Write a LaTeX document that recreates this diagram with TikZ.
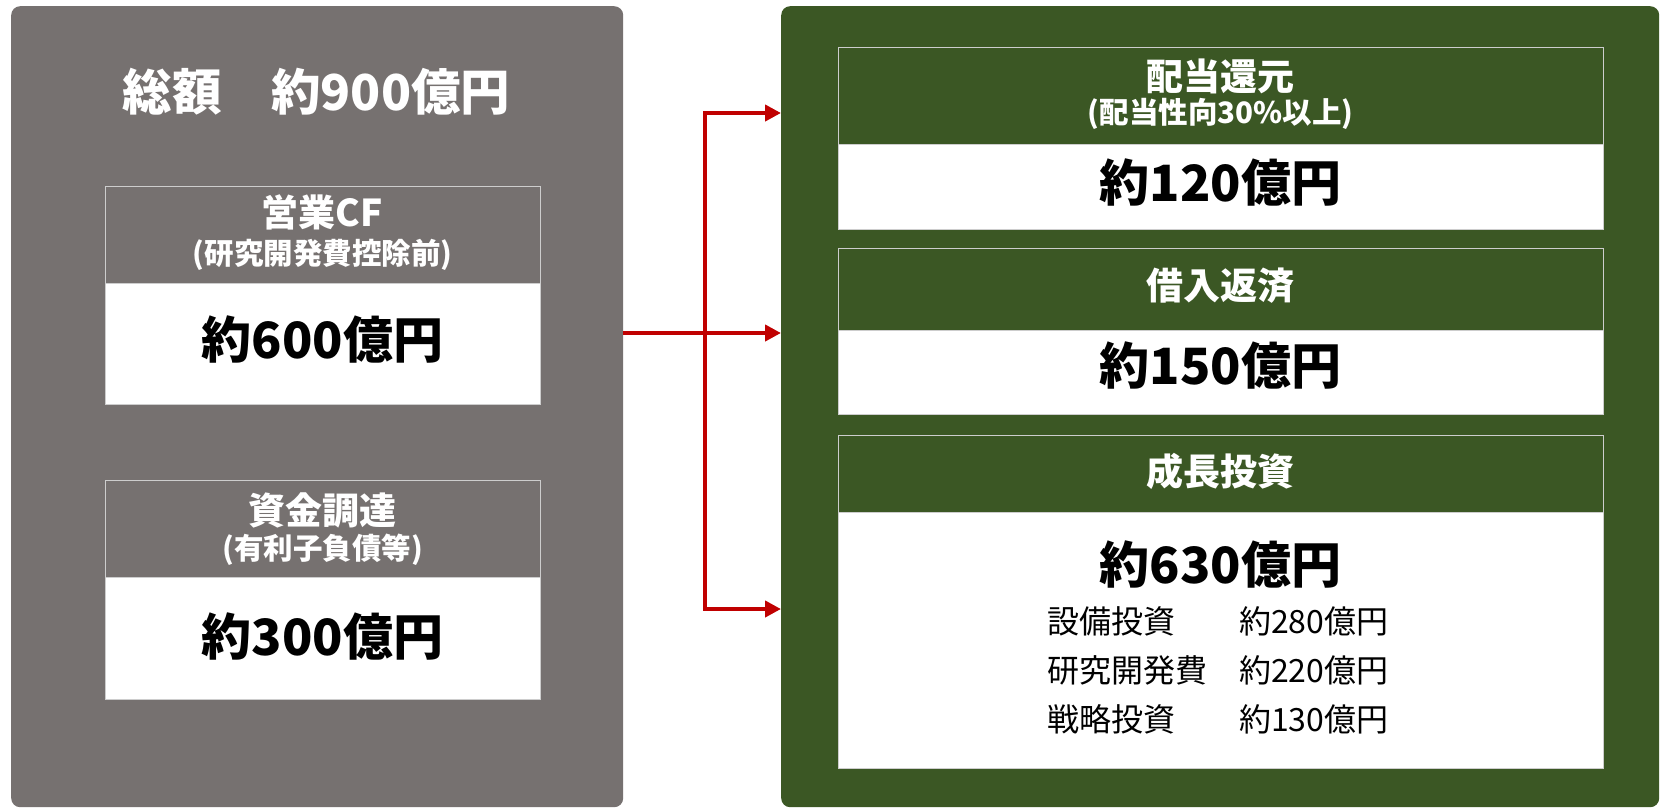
\documentclass[tikz,border=0pt]{standalone}
\usepackage{fontspec}
\setmainfont{Noto Sans CJK JP}
\usetikzlibrary{arrows.meta}
\definecolor{boxgray}{RGB}{118,113,112}
\definecolor{boxgreen}{RGB}{59,87,36}
\definecolor{arrowred}{RGB}{192,0,0}
\definecolor{edgegray}{RGB}{205,205,205}
\begin{document}
\begin{tikzpicture}[x=1pt,y=-1pt,
  outerbox/.style={rectangle, rounded corners=9pt, inner sep=0pt, anchor=north west, draw=none},
  hdr/.style={rectangle, inner sep=0pt, anchor=north west, draw=edgegray, line width=1pt},
  bodybox/.style={rectangle, inner sep=0pt, anchor=north west, fill=white, draw=edgegray, line width=1pt},
  txt/.style={inner sep=0pt, anchor=center},
  bigval/.style={txt, font=\fontsize{50}{58}\selectfont\bfseries, text=black},
  headone/.style={txt, font=\fontsize{37}{44}\selectfont\bfseries, text=white},
  headtwo/.style={txt, font=\fontsize{29.5}{35}\selectfont\bfseries, text=white},
  subitem/.style={inner sep=0pt, anchor=west, font=\fontsize{32}{38}\selectfont, text=black},
  redline/.style={draw=arrowred, line width=4pt},
  arr/.style={-{Triangle[length=16pt,width=16pt]}},
  arrboth/.style={{Triangle[length=16pt,width=16pt]}-{Triangle[length=16pt,width=16pt]}}
]
\useasboundingbox (0,0) rectangle (1661,809);

% outer panels
\node[outerbox, fill=boxgray, minimum width=612, minimum height=801] (gray) at (11,6) {};
\node[outerbox, fill=boxgreen, minimum width=878, minimum height=801] (green) at (781,6) {};

% title
\node[txt, text=white, font=\fontsize{49.5}{58}\selectfont\bfseries] (title) at (316.5,92) {総額　約900億円};

% left boxes
\node[hdr, fill=boxgray, minimum width=435, minimum height=97] (cfh) at (105,186) {};
\node[bodybox, minimum width=435, minimum height=121] (cfb) at (105,283) {};
\node[headone] (cft1) at (322.5,212) {営業CF};
\node[headtwo] (cft2) at (322.5,255) {(研究開発費控除前)};
\node[bigval] (cfv) at (322.5,339) {約600億円};

\node[hdr, fill=boxgray, minimum width=435, minimum height=97] (fuh) at (105,480) {};
\node[bodybox, minimum width=435, minimum height=122] (fub) at (105,577) {};
\node[headone] (fut1) at (322.5,510) {資金調達};
\node[headtwo] (fut2) at (322.5,550) {(有利子負債等)};
\node[bigval] (fuv) at (322.5,636) {約300億円};

% right boxes
\node[hdr, fill=boxgreen, minimum width=765, minimum height=97] (dvh) at (838,47) {};
\node[bodybox, minimum width=765, minimum height=85] (dvb) at (838,144) {};
\node[headone] (dvt1) at (1220.5,76) {配当還元};
\node[headtwo] (dvt2) at (1220.5,114) {(配当性向30\%以上)};
\node[bigval] (dvv) at (1220.5,182) {約120億円};

\node[hdr, fill=boxgreen, minimum width=765, minimum height=82] (rph) at (838,248) {};
\node[bodybox, minimum width=765, minimum height=84] (rpb) at (838,330) {};
\node[headone] (rpt1) at (1220.5,286) {借入返済};
\node[bigval] (rpv) at (1220.5,365) {約150億円};

\node[hdr, fill=boxgreen, minimum width=765, minimum height=77] (gih) at (838,435) {};
\node[bodybox, minimum width=765, minimum height=256] (gib) at (838,512) {};
\node[headone] (git1) at (1220.5,471) {成長投資};
\node[bigval] (giv) at (1220.5,564) {約630億円};
\node[subitem] (s1a) at (1047,621) {設備投資};
\node[subitem] (s1b) at (1239,621) {約280億円};
\node[subitem] (s2a) at (1047,670) {研究開発費};
\node[subitem] (s2b) at (1239,670) {約220億円};
\node[subitem] (s3a) at (1047,719) {戦略投資};
\node[subitem] (s3b) at (1239,719) {約130億円};

% connectors
\coordinate (j1) at (705,113);
\coordinate (j2) at (705,333);
\coordinate (j3) at (705,609);
\draw[redline, arrboth] (j1 -| green.west) -- (j1) -- (j3) -- (j3 -| green.west);
\draw[redline, arr] (gray.east |- j2) -- (j2 -| green.west);
\end{tikzpicture}
\end{document}
